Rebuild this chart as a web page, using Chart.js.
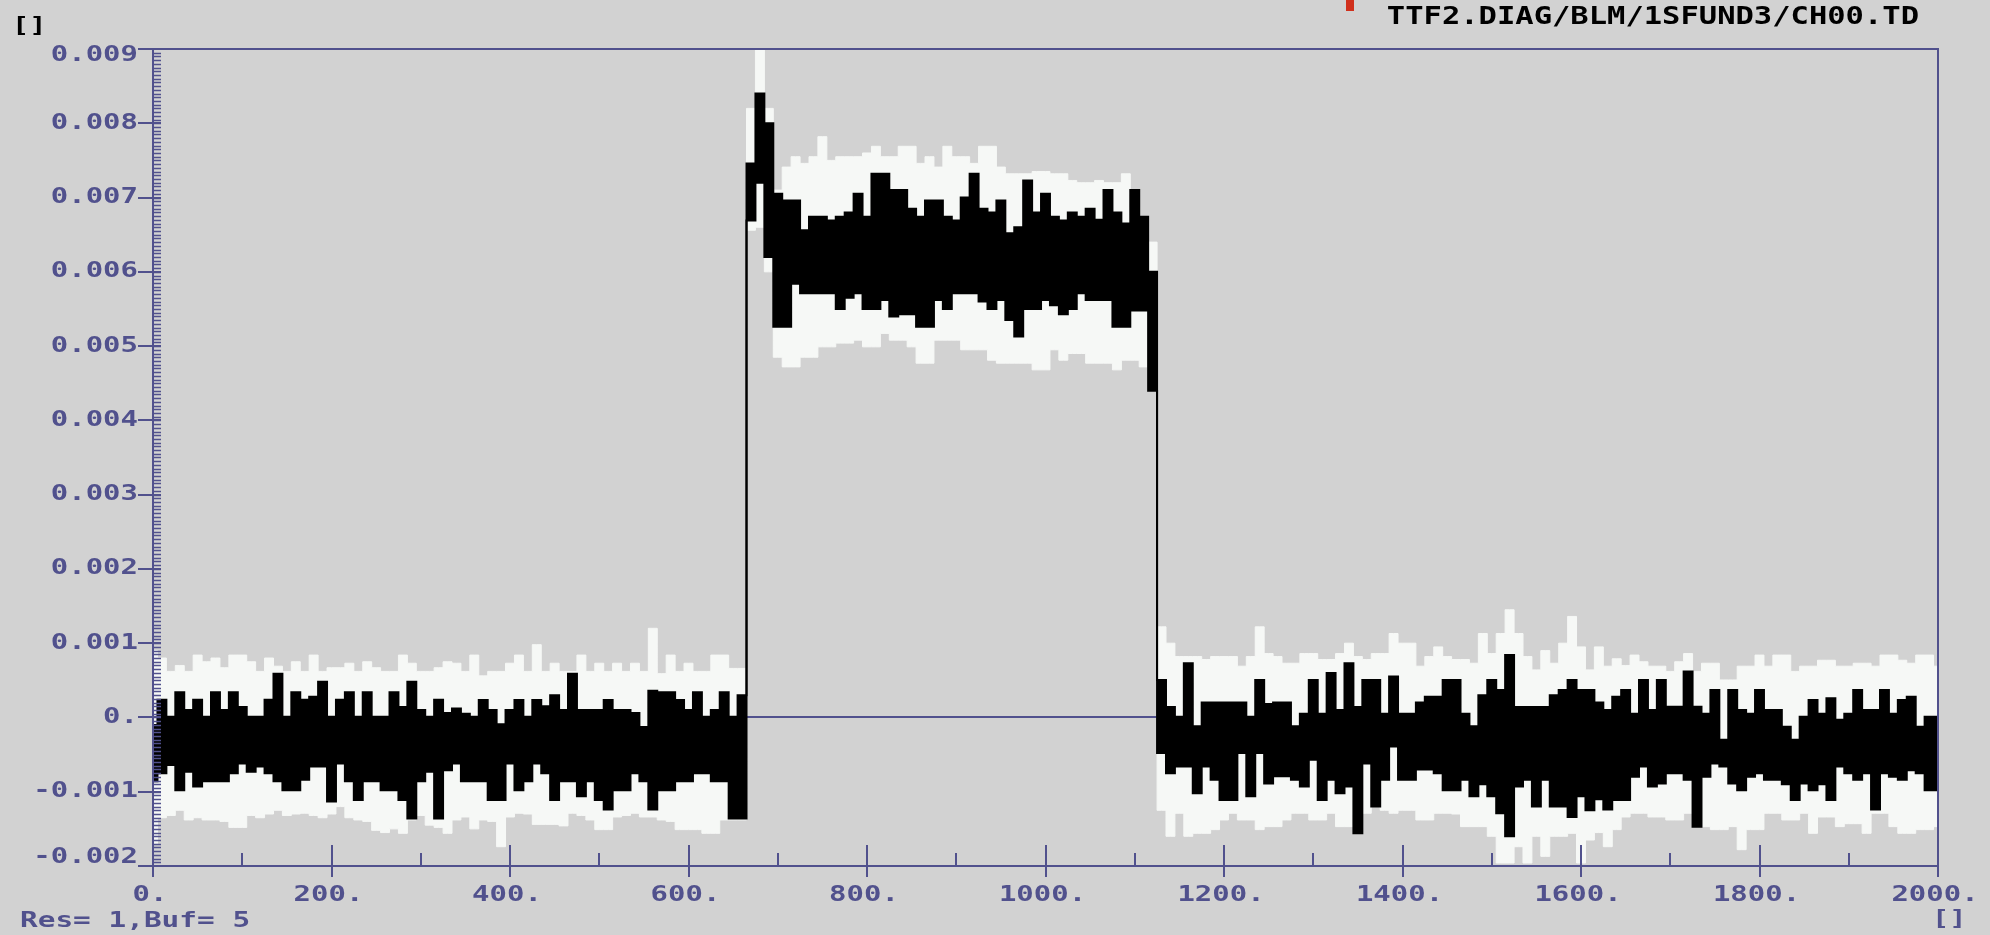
<!DOCTYPE html>
<html>
<head>
<meta charset="utf-8">
<title>CH00.TD</title>
<script src="https://cdn.jsdelivr.net/npm/chart.js@4.4.1/dist/chart.umd.min.js"></script>
<style>
  html, body { margin: 0; padding: 0; background: #d2d2d2; }
  #wrap { width: 1990px; height: 935px; }
</style>
</head>
<body>
<div id="wrap"><canvas id="scope" width="1990" height="935"></canvas></div>
<script>
// one sample every 10 ticks, values stored in units of 1e-4
const SAMPLE_STEP = 10;
const UNIT = 1e-4;

// min/max envelope over the buffers (light band)
const whiteHi = [
  9.0, 8.0, 6.2, 7.0, 6.2, 8.4, 7.5, 8.0, 6.7, 8.4, 8.4, 7.5, 6.2, 8.0, 6.9, 6.2, 7.5, 6.2, 8.4, 6.2,
  6.7, 6.7, 7.3, 6.2, 7.5, 6.7, 6.2, 6.2, 8.4, 7.3, 6.2, 6.2, 6.7, 7.5,
  7.3, 6.2, 8.4, 5.6, 6.2, 6.2, 7.3, 8.4, 6.2, 9.8, 6.2, 7.3, 6.2, 6.2, 8.4, 6.2, 7.3, 6.2, 7.3, 6.2,
  7.3, 6.2, 12.0, 5.9, 8.4, 6.2, 7.3, 6.2, 6.2, 8.4, 8.4, 6.6,
  6.6, 82, 90, 82, 71, 74.1, 75.5, 74.6, 75.5, 78.2, 75.0, 75.5, 75.5, 75.5, 76.0, 76.9, 75.5, 75.5,
  76.9, 76.9, 74.6, 75.5, 74.1, 76.9, 75.5, 75.5, 74.6, 76.9, 76.9, 74.1, 73.2, 73.2, 73.2, 73.5, 73.5,
  73.2, 73.2, 72.3, 72.0, 72.0, 72.3, 72.0, 72.0, 73.2, 70.5, 67.4, 64,
  12.2, 10.0, 8.2, 8.2, 8.2, 7.8, 8.2, 8.2, 8.2, 6.9, 8.2, 12.2, 8.6, 8.2, 7.3, 7.3, 8.6, 8.6, 7.8, 7.8,
  8.6, 10.0, 8.2, 7.8, 8.6, 8.6, 11.3, 10.0, 10.0, 6.9, 8.2, 9.5, 8.2, 7.8, 7.8, 7.3, 11.3, 8.6, 11.3, 14.5,
  11.3, 8.2, 6.4, 9.0, 7.3, 10.0, 13.6, 9.5, 6.4, 9.5,
  6.9, 7.9, 7.0, 8.4, 7.5, 6.9, 6.9, 6.2, 7.5, 8.6, 6.2, 7.3, 7.3, 5.05, 5.05, 6.9, 6.9, 8.4, 6.9, 8.4,
  8.4, 6.2, 6.9, 6.9, 7.7, 7.7, 6.9, 6.9, 7.3, 7.3, 6.9, 8.4, 8.4, 7.7, 7.3, 8.4, 8.4, 6.9
];
const whiteLo = [
  -17.0, -13.5, -13.2, -12.5, -13.8, -13.5, -13.8, -13.8, -14.0, -14.8, -14.8, -13.2, -13.5, -13.0, -12.5,
  -13.2, -13.0, -12.9, -13.2, -13.5, -13.0, -12.0, -13.5, -13.8, -14.0, -15.2, -15.5, -15.0, -15.6, -13.8,
  -13.2, -14.5, -14.8, -15.6,
  -13.8, -13.4, -15.0, -13.8, -14.0, -17.4, -13.4, -12.9, -13.0, -14.4, -14.4, -14.4, -14.6, -12.9, -13.2,
  -13.8, -15.1, -15.1, -13.4, -13.2, -12.9, -13.4, -13.4, -13.8, -14.0, -15.1, -15.1, -15.1, -15.6, -15.6,
  -13.8, -13.8,
  -13.8, 65.6, 66, 60, 48.5, 47.2, 47.2, 48.5, 48.5, 49.9, 49.9, 50.4, 50.4, 50.8, 49.9, 49.9, 51.7, 50.8,
  50.8, 49.9, 47.7, 47.7, 50.8, 50.8, 50.8, 49.5, 49.5, 49.5, 48.1, 47.7, 47.7, 47.7, 47.7, 46.8, 46.8,
  49.5, 48.1, 49.0, 49.0, 47.7, 47.7, 47.7, 46.8, 48.1, 48.1, 47.2, 44,
  -12.5, -16.0, -12.9, -16.0, -15.6, -15.6, -15.1, -13.8, -12.9, -13.8, -13.8, -15.1, -14.7, -14.7, -13.8,
  -12.9, -12.9, -13.8, -13.8, -12.9, -14.7, -14.7, -13.8, -12.9, -12.0, -12.5, -12.9, -12.5, -12.5, -13.8,
  -13.8, -12.9, -12.9, -13.0, -14.7, -14.7, -14.7, -16.0, -19.6, -19.6, -17.4, -19.6, -16.0, -18.7, -16.0,
  -16.0, -15.6, -19.6, -16.5, -15.5,
  -17.4, -15.1, -13.4, -12.9, -12.9, -13.4, -13.4, -13.8, -13.8, -12.9, -14.7, -14.7, -15.1, -15.1, -14.7,
  -17.8, -15.1, -15.1, -12.9, -12.9, -13.8, -13.8, -12.9, -15.6, -13.4, -13.4, -14.7, -14.3, -14.3, -15.6,
  -12.9, -12.9, -14.7, -15.6, -15.6, -15.1, -15.1, -14.7
];

// current trace (dark band)
const blackHi = [
  -1.0, 2.4, 0.1, 3.4, 1.0, 2.4, 0.1, 3.4, 1.0, 3.4, 1.4, 0.1, 0.1, 2.4, 5.9, 0.1, 3.4, 2.4, 2.8, 4.8,
  0.1, 2.4, 3.4, 0.1, 3.4, 0.1, 0.1, 3.4, 1.4, 4.8, 1.0, 0.1, 2.4, 0.6,
  1.2, 0.5, 0.1, 2.35, 1.0, -0.9, 1.0, 2.35, 0.1, 2.35, 1.5, 3.0, 1.0, 5.9, 1.0, 1.0, 1.0, 2.35, 1.0, 1.0,
  0.6, -1.3, 3.6, 3.4, 3.4, 2.35, 1.0, 3.4, 0.1, 1.0, 3.4, 0.1,
  3.0, 74.6, 84, 80, 70.5, 69.6, 69.6, 65.6, 67.4, 67.4, 66.9, 67.4, 68.0, 70.5, 67.4, 73.2, 73.2, 71.0,
  71.0, 68.5, 67.4, 69.6, 69.6, 67.4, 66.9, 70.0, 73.2, 68.5, 68.0, 69.6, 65.2, 66.0, 72.3, 68.0, 70.5,
  67.4, 66.9, 68.0, 67.4, 68.5, 67.0, 71.0, 68.0, 66.5, 71.0, 67.4, 60,
  5.05, 1.4, 0.1, 7.3, -1.2, 2.0, 2.0, 2.0, 2.0, 2.0, 0.1, 5.05, 1.8, 2.0, 2.0, -1.2, 0.5, 5.05, 0.5, 6.0,
  1.0, 7.3, 1.4, 5.05, 5.05, 0.5, 5.5, 0.5, 0.5, 2.0, 2.8, 2.8, 5.05, 5.05, 0.5, -1.2, 3.0, 5.05, 3.7, 8.4,
  1.4, 1.4, 1.4, 1.4, 3.0, 3.7, 5.05, 3.7, 3.7, 2.0,
  1.0, 2.8, 3.7, 0.5, 5.05, 1.0, 5.05, 1.45, 1.45, 6.2, 1.45, 0.5, 3.7, -3.0, 3.7, 1.0, 0.5, 3.7, 1.0, 1.0,
  -1.25, -3.0, 0.1, 2.36, 0.5, 2.6, -0.3, 0.5, 3.7, 1.0, 1.0, 3.7, 0.5, 2.36, 2.8, -1.25, 0.1, 0.1
];
const blackLo = [
  -8.6, -7.5, -6.4, -9.8, -7.3, -9.3, -8.6, -8.6, -8.6, -7.5, -6.2, -7.3, -6.6, -7.5, -8.6, -9.8, -9.8,
  -8.4, -6.6, -6.6, -11.3, -6.2, -8.6, -11.1, -8.6, -8.6, -9.8, -9.8, -11.1, -13.6, -8.6, -7.3, -13.6, -7.1,
  -6.2, -8.6, -8.6, -8.6, -11.1, -11.1, -6.2, -9.8, -8.6, -6.2, -7.5, -11.1, -8.6, -8.6, -10.6, -8.6,
  -11.1, -12.4, -9.8, -9.8, -7.5, -8.6, -12.4, -9.8, -9.8, -8.6, -8.6, -7.5, -7.5, -8.6, -8.6, -13.6,
  -13.6, 66.9, 72, 62, 52.6, 52.6, 58.4, 57.1, 57.1, 57.1, 57.1, 55.0, 56.5, 57.1, 55.0, 55.0, 56.2, 54.0,
  54.3, 54.3, 52.6, 52.6, 56.2, 55.0, 57.1, 57.1, 57.1, 56.0, 55.0, 56.2, 53.5, 51.3, 55.0, 55.0, 56.2,
  55.5, 54.3, 55.0, 57.1, 56.2, 56.2, 56.2, 52.6, 52.6, 54.8, 54.8, 44,
  -4.8, -7.5, -6.6, -6.6, -10.2, -6.6, -8.4, -11.1, -11.1, -4.8, -10.6, -4.8, -8.9, -7.9, -7.9, -8.4, -9.3,
  -5.7, -11.1, -8.4, -10.2, -9.3, -15.6, -6.2, -12.0, -8.4, -3.9, -8.4, -8.4, -7.0, -7.0, -7.5, -9.8, -9.8,
  -8.4, -10.6, -9.0, -10.6, -12.9, -16.0, -9.3, -8.4, -12.0, -8.4, -12.0, -12.0, -13.4, -10.6, -12.5, -11.0,
  -12.4, -11.1, -11.1, -8.0, -6.6, -9.3, -8.9, -7.5, -7.5, -8.4, -14.7, -8.0, -6.2, -6.6, -8.9, -9.8, -8.0,
  -7.5, -8.4, -8.4, -9.0, -11.1, -8.9, -9.8, -9.0, -11.1, -6.6, -7.5, -8.4, -7.5, -12.4, -7.5, -8.0, -8.4,
  -7.1, -7.5, -9.8, -9.8
];

const xTicks = [0, 200, 400, 600, 800, 1000, 1200, 1400, 1600, 1800, 2000];
const xTickLabels = ['0.', '200.', '400.', '600.', '800.', '1000.', '1200.', '1400.', '1600.', '1800.', '2000.'];
const xMinorTicks = [100, 300, 500, 700, 900, 1100, 1300, 1500, 1700, 1900];
const yTicks = [-0.002, -0.001, 0, 0.001, 0.002, 0.003, 0.004, 0.005, 0.006, 0.007, 0.008, 0.009];
const yTickLabels = ['-0.002', '-0.001', '0.', '0.001', '0.002', '0.003', '0.004', '0.005', '0.006', '0.007', '0.008', '0.009'];
const Y_MINOR_STEP = 0.00005;

const channelName = 'TTF2.DIAG/BLM/1SFUND3/CH00.TD';
const statusText = 'Res= 1,Buf= 5';

const AXIS = '#51518d';
const LIGHT = '#f6f8f6';

// wide bold screen font: mono glyphs stretched horizontally
function wideText(ctx, str, x, y, align, size, color, sx) {
  ctx.save();
  ctx.translate(x, y);
  ctx.scale(sx, 1);
  ctx.font = 'bold ' + size + 'px "DejaVu Sans Mono"';
  ctx.fillStyle = color;
  ctx.textAlign = align;
  ctx.textBaseline = 'middle';
  ctx.fillText(str, 0, 0);
  ctx.restore();
}

const scopeFrame = {
  id: 'scopeFrame',
  afterDatasetsDraw(chart) {
    const { ctx, chartArea: a, scales: { x, y } } = chart;
    ctx.save();
    ctx.strokeStyle = AXIS;
    ctx.lineWidth = 2;
    ctx.beginPath();
    ctx.moveTo(a.left, a.bottom + 11);
    ctx.lineTo(a.left, a.top);
    ctx.lineTo(a.right, a.top);
    ctx.lineTo(a.right, a.bottom + 11);
    ctx.moveTo(a.left, a.bottom);
    ctx.lineTo(a.right, a.bottom);
    ctx.stroke();

    // y axis: fine ticks inside, major ticks out to the labels
    ctx.lineWidth = 1.5;
    ctx.beginPath();
    const nMinor = Math.round((y.max - y.min) / Y_MINOR_STEP);
    for (let k = 1; k < nMinor; k++) {
      const py = Math.round(y.getPixelForValue(y.min + k * Y_MINOR_STEP)) + 0.5;
      ctx.moveTo(a.left, py);
      ctx.lineTo(a.left + 8, py);
    }
    ctx.stroke();
    ctx.lineWidth = 2;
    ctx.beginPath();
    yTicks.forEach(v => {
      const py = Math.round(y.getPixelForValue(v));
      ctx.moveTo(a.left - 15, py);
      ctx.lineTo(a.left + 8, py);
    });
    // x axis ticks
    xTicks.forEach(v => {
      const px = Math.round(x.getPixelForValue(v));
      ctx.moveTo(px, a.bottom - 21);
      ctx.lineTo(px, a.bottom + 11);
    });
    xMinorTicks.forEach(v => {
      const px = Math.round(x.getPixelForValue(v));
      ctx.moveTo(px, a.bottom - 13);
      ctx.lineTo(px, a.bottom);
    });
    ctx.stroke();

    yTicks.forEach((v, i) => {
      const py = Math.min(Math.max(y.getPixelForValue(v), a.top + 7), a.bottom - 8);
      wideText(ctx, yTickLabels[i], a.left - 15, py, 'right', 21, AXIS, 1.38);
    });
    xTicks.forEach((v, i) => {
      wideText(ctx, xTickLabels[i], x.getPixelForValue(v) - 3, a.bottom + 30, 'center', 21, AXIS, 1.38);
    });

    wideText(ctx, '[]', 12, 26, 'left', 22, '#000', 1.3);
    wideText(ctx, channelName, 1919, 18, 'right', 24, '#000', 1.27);
    wideText(ctx, statusText, 20, 922, 'left', 21, AXIS, 1.4);
    wideText(ctx, '[]', 1932, 919, 'left', 22, AXIS, 1.3);

    // cursor marker at the top edge
    ctx.fillStyle = '#d0301c';
    ctx.fillRect(1346, 0, 8, 11);
    ctx.restore();
  }
};

function band(values, color, width, fill) {
  return {
    data: values.map((v, i) => ({ x: i * SAMPLE_STEP, y: v * UNIT })),
    borderColor: color,
    backgroundColor: color,
    borderWidth: width,
    fill: fill,
    stepped: 'middle',
    pointRadius: 0,
    tension: 0
  };
}

new Chart(document.getElementById('scope'), {
  type: 'line',
  data: {
    datasets: [
      band(blackHi, '#000000', 2, '+1'),
      band(blackLo, '#000000', 2, false),
      band(whiteHi, LIGHT, 1, '+1'),
      band(whiteLo, LIGHT, 1, false)
    ]
  },
  options: {
    responsive: false,
    animation: false,
    events: [],
    layout: { padding: { left: 153, right: 52, top: 49, bottom: 69 }, autoPadding: false },
    plugins: { legend: { display: false }, tooltip: { enabled: false } },
    scales: {
      x: {
        type: 'linear', min: 0, max: 2000,
        ticks: { display: false },
        grid: { display: false, drawTicks: false },
        border: { display: false }
      },
      y: {
        type: 'linear', min: -0.002, max: 0.009,
        ticks: { display: false, stepSize: 0.001 },
        grid: {
          drawTicks: false,
          lineWidth: 2,
          color: c => Math.abs(c.tick.value) < 1e-9 ? AXIS : 'rgba(0,0,0,0)'
        },
        border: { display: false }
      }
    }
  },
  plugins: [scopeFrame]
});
</script>
</body>
</html>
